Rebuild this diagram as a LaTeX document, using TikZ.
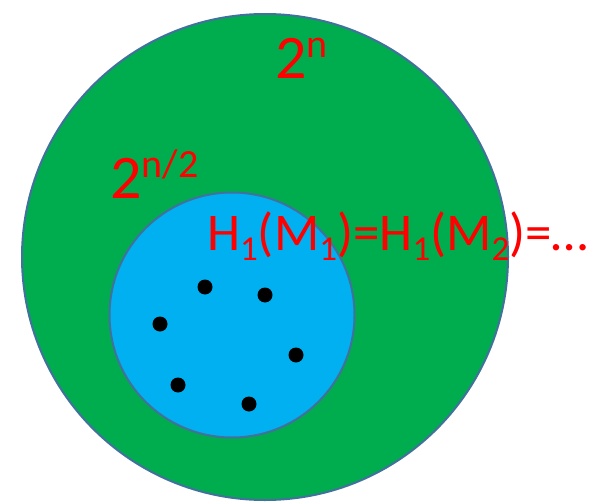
\documentclass[tikz,border=0pt]{standalone}
\usepackage{fontspec}
\setmainfont{Carlito}
\definecolor{setgreen}{HTML}{00AD4E}
\definecolor{setblue}{HTML}{00B0F0}
\definecolor{setedge}{HTML}{41719C}
\newcommand{\hi}[1]{\raisebox{0.33em}{\fontsize{40}{40}\selectfont #1}}
\newcommand{\lo}[1]{\raisebox{-0.2em}{\fontsize{35}{35}\selectfont #1}}
\tikzset{
  setdisk/.style={circle,draw=setedge,line width=2pt,inner sep=0pt},
  seed/.style={circle,fill=black,inner sep=0pt,minimum size=15pt},
  lbl/.style={anchor=base west,text=red,inner sep=0pt}
}

\begin{document}
\begin{tikzpicture}[x=1pt,y=-1pt]
\useasboundingbox (0,0) rectangle (597,503);
\node[setdisk,fill=setgreen,minimum size=486pt] (outer) at (265,257) {};
\node[setdisk,fill=setblue,minimum size=245pt] (inner) at (232,315) {};
\node[seed] (m1) at (205,287) {};
\node[seed] (m2) at (265,295) {};
\node[seed] (m3) at (160,324) {};
\node[seed] (m4) at (296,355) {};
\node[seed] (m5) at (178,385) {};
\node[seed] (m6) at (249,404) {};
\node[lbl,font=\fontsize{62}{62}\selectfont] (full) at (275,78) {2\hi{n}};
\node[lbl,font=\fontsize{62}{62}\selectfont] (half) at (110,198) {2\hi{n/2}};
\node[lbl,font=\fontsize{53}{53}\selectfont] (hash) at (207,250) {H\lo{1}(M\lo{1})=H\lo{1}(M\lo{2})=…};
\end{tikzpicture}
\end{document}
